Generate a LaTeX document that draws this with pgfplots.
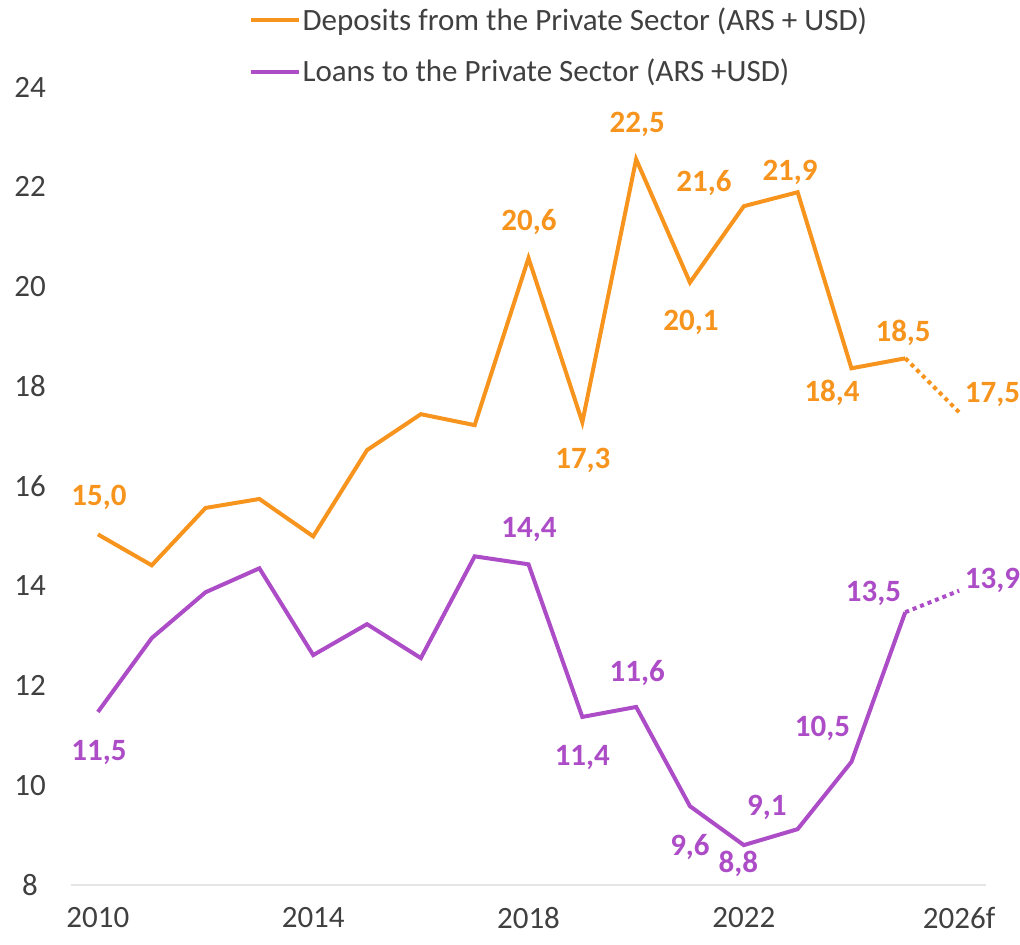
\documentclass[border=0pt]{standalone}
\usepackage{fontspec}
\setmainfont{Carlito}
\usepackage{pgfplots}
\pgfplotsset{compat=1.18}
\definecolor{dep}{RGB}{247,148,29}
\definecolor{loan}{RGB}{172,76,198}
\definecolor{tick}{RGB}{64,64,64}

\begin{document}
\begin{tikzpicture}
\useasboundingbox (-35.5pt,-29.5pt) rectangle (474.5pt,442.5pt);
\begin{axis}[
    scale only axis,
    width=457.5pt, height=399pt,
    xmin=2009.5, xmax=2026.5,
    ymin=8, ymax=24,
    clip=false,
    axis line style={draw=none},
    major tick length=0pt,
    xtick={2010,2014,2018,2022,2026},
    xticklabels={2010,2014,2018,2022,2026f},
    ytick={8,10,...,24},
    /pgf/number format/assume math mode=true,
    ticklabel style={font=\fontsize{15.5}{18}\selectfont, text=tick},
    yticklabel style={anchor=center, xshift=-20.5pt},
    xticklabel style={anchor=center, yshift=-16.5pt},
    legend style={draw=none, fill=none, anchor=north west,
        at={(axis description cs:0.187,1.11)},
        font=\fontsize{15.5}{18}\selectfont, text=tick,
        row sep=9pt, nodes={inner xsep=1pt}},
    legend cell align=left,
    legend image code/.code={\draw[#1] (0pt,0pt) -- (24pt,0pt);},
]
\draw[gray!20, line width=0.6pt] (rel axis cs:0,0) -- (rel axis cs:1,0);

\addplot[dep, line width=2pt] coordinates {
    (2010,15.03) (2011,14.41) (2012,15.56) (2013,15.74) (2014,14.99)
    (2015,16.72) (2016,17.44) (2017,17.22) (2018,20.57) (2019,17.28)
    (2020,22.55) (2021,20.08) (2022,21.61) (2023,21.89) (2024,18.36)
    (2025,18.56)
};
\addlegendentry{Deposits from the Private Sector (ARS + USD)}
\addplot[loan, line width=2pt] coordinates {
    (2010,11.47) (2011,12.95) (2012,13.87) (2013,14.35) (2014,12.61)
    (2015,13.23) (2016,12.55) (2017,14.59) (2018,14.43) (2019,11.37)
    (2020,11.57) (2021,9.58) (2022,8.80) (2023,9.12) (2024,10.47)
    (2025,13.47)
};
\addlegendentry{Loans to the Private Sector (ARS +USD)}
\addplot[dep, line width=2pt, dotted, forget plot] coordinates {(2025,18.56) (2026,17.48)};
\addplot[loan, line width=2pt, dotted, forget plot] coordinates {(2025,13.47) (2026,13.9)};

\tikzset{lab/.style={font=\bfseries\fontsize{15.5}{18}\selectfont, inner sep=0pt}}
\node[lab, text=dep] at (axis cs:2010.02,15.78) {15,0};
\node[lab, text=dep] at (axis cs:2018.01,21.29) {20,6};
\node[lab, text=dep] at (axis cs:2019.01,16.52) {17,3};
\node[lab, text=dep] at (axis cs:2020.02,23.25) {22,5};
\node[lab, text=dep] at (axis cs:2021.02,19.28) {20,1};
\node[lab, text=dep] at (axis cs:2021.26,22.07) {21,6};
\node[lab, text=dep] at (axis cs:2022.86,22.29) {21,9};
\node[lab, text=dep] at (axis cs:2023.64,17.86) {18,4};
\node[lab, text=dep] at (axis cs:2024.96,19.06) {18,5};
\node[lab, text=dep] at (axis cs:2026.62,17.84) {17,5};

\node[lab, text=loan] at (axis cs:2010.02,10.65) {11,5};
\node[lab, text=loan] at (axis cs:2018.01,15.13) {14,4};
\node[lab, text=loan] at (axis cs:2019.00,10.55) {11,4};
\node[lab, text=loan] at (axis cs:2020.02,12.25) {11,6};
\node[lab, text=loan] at (axis cs:2021.00,8.76) {9,6};
\node[lab, text=loan] at (axis cs:2021.90,8.42) {8,8};
\node[lab, text=loan] at (axis cs:2022.43,9.56) {9,1};
\node[lab, text=loan] at (axis cs:2023.46,11.13) {10,5};
\node[lab, text=loan] at (axis cs:2024.41,13.85) {13,5};
\node[lab, text=loan] at (axis cs:2026.62,14.11) {13,9};
\end{axis}
\end{tikzpicture}
\end{document}
